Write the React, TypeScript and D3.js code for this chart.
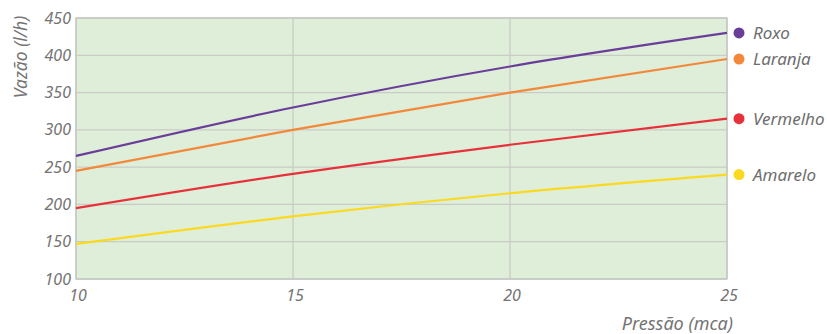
import React from "react";
import * as d3 from "d3";

const pressures = [10, 15, 20, 25];
const seriesNames = ["Roxo", "Laranja", "Vermelho", "Amarelo"];
const roxo = [265, 330, 385, 430];
const laranja = [245, 300, 350, 395];
const vermelho = [195, 241, 280, 315];
const amarelo = [147, 184, 215, 240];
const seriesColors = ["#6a3d9a", "#f3883a", "#e8303a", "#fbd91f"];
const yTicks = [100, 150, 200, 250, 300, 350, 400, 450];
const xTicks = [10, 15, 20, 25];

export default function App() {
  const W = 827, H = 334;
  const left = 76, right = 727, top = 18, bottom = 279;
  const x = d3.scaleLinear().domain([10, 25]).range([left, right]);
  const y = d3.scaleLinear().domain([100, 450]).range([bottom, top]);
  const all = [roxo, laranja, vermelho, amarelo];
  const line = d3
    .line<number>()
    .x((_, i) => x(pressures[i]))
    .y((d) => y(d))
    .curve(d3.curveMonotoneX);
  const font = "'Noto Sans', 'Open Sans', sans-serif";
  return (
    <svg width={W} height={H} style={{ position: "absolute", left: 0, top: 0 }} fontFamily={font}>
      <rect x={left} y={top} width={right - left} height={bottom - top} fill="#dfeed9" />
      {yTicks.map((t) => (
        <line key={"gy" + t} x1={left} x2={right} y1={y(t)} y2={y(t)} stroke="#c9cbc6" strokeWidth={1.3} />
      ))}
      {xTicks.map((t) => (
        <line key={"gx" + t} x1={x(t)} x2={x(t)} y1={top} y2={bottom} stroke="#c9cbc6" strokeWidth={1.3} />
      ))}
      <rect x={left} y={top} width={right - left} height={bottom - top} fill="none" stroke="#c4c8c1" strokeWidth={1.3} />
      {yTicks.map((t) => (
        <text key={"ty" + t} x={71} y={y(t) + 5.5} textAnchor="end" fontSize={16} fontStyle="italic" fill="#747474">
          {t}
        </text>
      ))}
      {xTicks.map((t) => (
        <text key={"tx" + t} x={x(t) + 2} y={301} textAnchor="middle" fontSize={16} fontStyle="italic" fill="#747474">
          {t}
        </text>
      ))}
      <text transform={`translate(27,57) rotate(-90)`} textAnchor="middle" fontSize={17.5} fontStyle="italic" fill="#747474">
        Vazão (l/h)
      </text>
      <text x={733} y={330} textAnchor="end" fontSize={18} fontStyle="italic" fill="#747474">
        Pressão (mca)
      </text>
      {all.map((s, i) => (
        <path key={"l" + i} d={line(s) || ""} fill="none" stroke={seriesColors[i]} strokeWidth={2.2} />
      ))}
      {all.map((s, i) => (
        <g key={"lg" + i}>
          <circle cx={739} cy={y(s[s.length - 1])} r={5.5} fill={seriesColors[i]} />
          <text x={753} y={y(s[s.length - 1]) + 6} fontSize={17} fontStyle="italic" fill="#6e6e6e">
            {seriesNames[i]}
          </text>
        </g>
      ))}
    </svg>
  );
}
